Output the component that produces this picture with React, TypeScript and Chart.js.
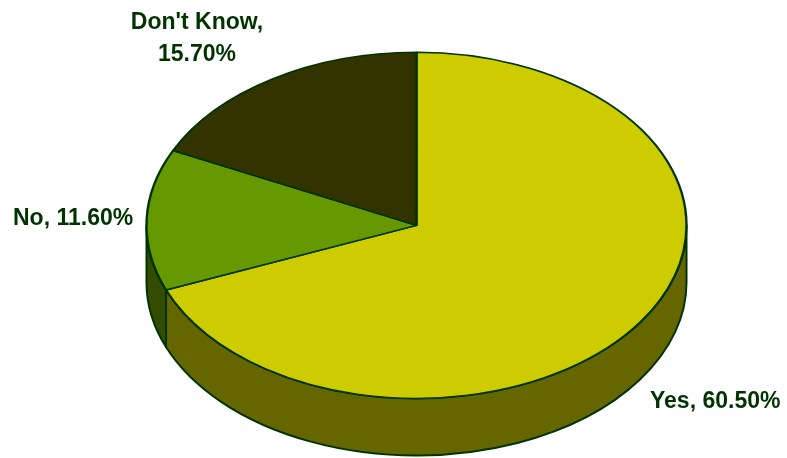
import React, { useEffect, useRef } from "react";
import { Chart, registerables } from "chart.js";

Chart.register(...registerables);

const categories = ["Yes", "No", "Don't Know"];
const percentages = [60.5, 11.6, 15.7];
const topColors = ["#CCCC00", "#669900", "#333300"];
const sideColors = ["#666600", "#334C00", "#1A1A00"];

const OUTLINE = "#003300";
const TEXT_COLOR = "#003300";
const TILT = 0.641;
const DEPTH = 57;
const Y_SHIFT = -3.6;

const labelLayout = [
  { x: 650, y: 408, align: "left" as CanvasTextAlign, wrap: false },
  { x: 13, y: 225, align: "left" as CanvasTextAlign, wrap: false },
  { x: 197, y: 29, align: "center" as CanvasTextAlign, wrap: true },
];

const pie3d = {
  id: "pie3d",
  beforeDatasetsDraw(chart: any) {
    const meta = chart.getDatasetMeta(0);
    const arcs = meta.data;
    if (!arcs.length) return;
    const { x, y, outerRadius } = arcs[0].getProps(["x", "y", "outerRadius"], true);
    const cx = x;
    const cy = y + Y_SHIFT;
    const rx = outerRadius;
    const ry = outerRadius * TILT;
    const ctx: CanvasRenderingContext2D = chart.ctx;
    ctx.save();
    arcs.forEach((arc: any, i: number) => {
      const { startAngle, endAngle } = arc.getProps(["startAngle", "endAngle"], true);
      for (const shift of [-2 * Math.PI, 0, 2 * Math.PI]) {
        const a1 = Math.max(startAngle + shift, 0);
        const a2 = Math.min(endAngle + shift, Math.PI);
        if (a2 <= a1) continue;
        ctx.beginPath();
        ctx.ellipse(cx, cy, rx, ry, 0, a1, a2);
        ctx.lineTo(cx + rx * Math.cos(a2), cy + ry * Math.sin(a2) + DEPTH);
        ctx.ellipse(cx, cy + DEPTH, rx, ry, 0, a2, a1, true);
        ctx.closePath();
        ctx.fillStyle = sideColors[i];
        ctx.fill();
        ctx.lineWidth = 2;
        ctx.strokeStyle = OUTLINE;
        ctx.lineJoin = "round";
        ctx.stroke();
      }
    });
    ctx.restore();
    ctx.save();
    ctx.translate(cx, cy);
    ctx.scale(1, TILT);
    ctx.translate(-x, -y);
    (chart as any).$pie3dSaved = true;
  },
  afterDatasetsDraw(chart: any) {
    if (chart.$pie3dSaved) {
      chart.ctx.restore();
      chart.$pie3dSaved = false;
    }
  },
  afterDraw(chart: any) {
    const ctx: CanvasRenderingContext2D = chart.ctx;
    ctx.save();
    ctx.font = "bold 23px 'Liberation Sans', Arial, sans-serif";
    ctx.fillStyle = TEXT_COLOR;
    ctx.textBaseline = "alphabetic";
    categories.forEach((cat, i) => {
      const lay = labelLayout[i];
      const pct = percentages[i].toFixed(2) + "%";
      ctx.textAlign = lay.align;
      if (lay.wrap) {
        ctx.fillText(cat + ",", lay.x, lay.y);
        ctx.fillText(pct, lay.x, lay.y + 32);
      } else {
        ctx.fillText(cat + ", " + pct, lay.x, lay.y);
      }
    });
    ctx.restore();
  },
};

export default function App() {
  const canvasRef = useRef<HTMLCanvasElement | null>(null);

  useEffect(() => {
    if (!canvasRef.current) return;
    const chart = new Chart(canvasRef.current, {
      type: "pie",
      data: {
        labels: categories,
        datasets: [
          {
            data: percentages,
            backgroundColor: topColors,
            borderColor: OUTLINE,
            borderWidth: 2.4,
            clip: false as any,
          } as any,
        ],
      },
      options: {
        responsive: false,
        animation: false,
        radius: 270,
        layout: { padding: { left: 46, right: 0, top: 0, bottom: 0 } },
        plugins: {
          legend: { display: false },
          tooltip: { enabled: false },
        },
        events: [],
      } as any,
      plugins: [pie3d],
    });
    return () => chart.destroy();
  }, []);

  return (
    <div style={{ position: "fixed", left: 0, top: 0, width: 787, height: 458, background: "#fff" }}>
      <canvas ref={canvasRef} width={787} height={458} style={{ display: "block" }} />
    </div>
  );
}
